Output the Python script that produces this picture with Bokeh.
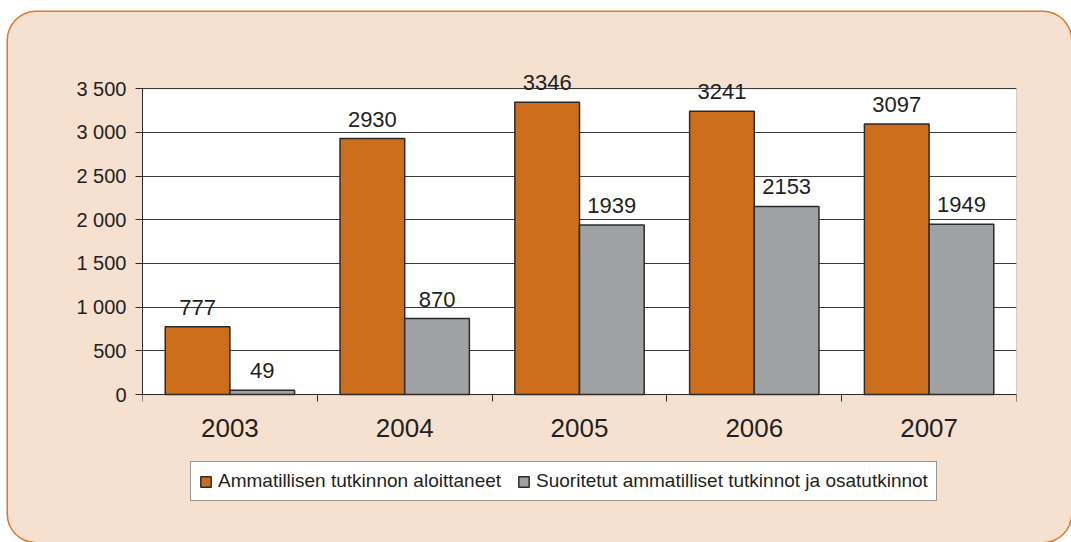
from bokeh.plotting import figure
from bokeh.models import Range1d, FixedTicker, Legend, LegendItem, ColumnDataSource, BoxAnnotation
from bokeh.transform import dodge
from bokeh.core.properties import value
from bokeh.embed import file_html
from bokeh.resources import INLINE

years = ["2003", "2004", "2005", "2006", "2007"]
started = [777, 2930, 3346, 3241, 3097]
completed = [49, 870, 1939, 2153, 1949]
y_ticks = [0, 500, 1000, 1500, 2000, 2500, 3000, 3500]
y_tick_labels = ["0", "500", "1 000", "1 500", "2 000", "2 500", "3 000", "3 500"]
series_names = ["Ammatillisen tutkinnon aloittaneet",
                "Suoritetut ammatilliset tutkinnot ja osatutkinnot"]

ORANGE = "#CD6E1D"
GRAY = "#A0A1A3"
EDGE = "#2B2B2B"
TXT = "#231F20"
FONT = value("Liberation Sans")

Y_MAX = 3500
Y_HEAD = 3800    # headroom above the plot area for value labels
Y_LOW = -1350    # room below the value axis for category labels and legend

xs = [i + 0.5 for i in range(len(years))]
src = ColumnDataSource(dict(
    x=xs, started=started, completed=completed,
    started_lbl=[str(v) for v in started],
    completed_lbl=[str(v) for v in completed],
))

p = figure(frame_width=874, frame_height=450, output_backend="svg", toolbar_location=None,
           x_range=Range1d(0, len(years)), y_range=Range1d(Y_LOW, Y_HEAD),
           min_border_left=134, min_border_right=55, min_border_top=50,
           min_border_bottom=30)
p.styles = {"background-color": "#F6E1D0", "border-radius": "28px",
            "box-shadow": "0 0 0 1.5px #D9792A", "margin-top": "12px",
            "margin-left": "8px"}
p.border_fill_color = None
p.background_fill_color = None
p.outline_line_color = None

# white plot area from 0 to the top of the value axis
p.add_layout(BoxAnnotation(bottom=0, top=Y_MAX, fill_color="white", fill_alpha=1,
                           line_color=EDGE, line_width=1, level="image"))

bw = 0.37
r1 = p.vbar(x=dodge("x", -bw / 2), top="started", width=bw, bottom=0, source=src,
            fill_color=ORANGE, line_color=EDGE, line_width=1.5)
r2 = p.vbar(x=dodge("x", bw / 2), top="completed", width=bw, bottom=0, source=src,
            fill_color=GRAY, line_color=EDGE, line_width=1.5)

for col, lbl, off in (("started", "started_lbl", -bw / 2), ("completed", "completed_lbl", bw / 2)):
    p.text(x=dodge("x", off), y=col, text=lbl, source=src, text_align="center",
           text_baseline="bottom", y_offset=-12, text_font=FONT,
           text_font_size="22px", text_color=TXT)

# y axis
p.yaxis.ticker = FixedTicker(ticks=y_ticks)
p.yaxis.bounds = (0, Y_MAX)
p.yaxis.major_label_overrides = {t: l for t, l in zip(y_ticks, y_tick_labels)}
p.yaxis.major_tick_out = 7
p.yaxis.major_tick_in = 0
p.yaxis.minor_tick_line_color = None
p.yaxis.axis_line_color = EDGE
p.yaxis.major_tick_line_color = EDGE
p.yaxis.major_label_text_font = "Liberation Sans"
p.yaxis.major_label_text_font_size = "20px"
p.yaxis.major_label_text_color = TXT
p.yaxis.major_label_standoff = 9

# x axis drawn at value 0: labels at centers, ticks at category boundaries (minor)
p.xaxis.fixed_location = 0
p.xaxis.ticker = FixedTicker(ticks=xs, minor_ticks=list(range(len(years) + 1)))
p.xaxis.major_label_overrides = {x: y for x, y in zip(xs, years)}
p.xaxis.major_tick_line_color = None
p.xaxis.major_tick_out = 0
p.xaxis.major_tick_in = 0
p.xaxis.minor_tick_out = 7
p.xaxis.minor_tick_in = 0
p.xaxis.minor_tick_line_color = EDGE
p.xaxis.axis_line_color = EDGE
p.xaxis.major_label_text_font = "Liberation Sans"
p.xaxis.major_label_text_font_size = "26px"
p.xaxis.major_label_text_color = TXT
p.xaxis.major_label_standoff = 17

p.xgrid.grid_line_color = None
p.ygrid.ticker = FixedTicker(ticks=y_ticks)
p.ygrid.grid_line_color = "#3A3A3A"
p.ygrid.grid_line_width = 1

legend = Legend(items=[LegendItem(label=series_names[0], renderers=[r1]),
                       LegendItem(label=series_names[1], renderers=[r2])],
                orientation="horizontal", location=(48, 11),
                label_text_font="Liberation Sans", label_text_font_size="19px",
                label_text_color=TXT, glyph_width=13, glyph_height=13,
                spacing=16, label_standoff=6, padding=8,
                border_line_color=EDGE, border_line_width=1,
                background_fill_color="white", background_fill_alpha=1,
                margin=0)
p.add_layout(legend)

open("out.html", "w").write(file_html(p, INLINE))
